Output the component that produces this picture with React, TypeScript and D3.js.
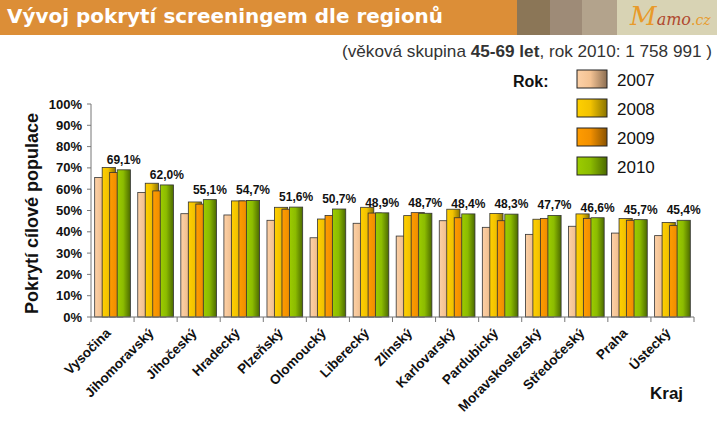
import * as d3 from 'd3'

const REGIONS = ['Vysočina', 'Jihomoravský', 'Jihočeský', 'Hradecký', 'Plzeňský', 'Olomoucký', 'Liberecký', 'Zlínský', 'Karlovarský', 'Pardubický', 'Moravskoslezský', 'Středočeský', 'Praha', 'Ústecký']
const YEARS = ['2007', '2008', '2009', '2010']
const V2007 = [65.5, 58.5, 48.5, 47.9, 45.4, 37.2, 44.0, 38.0, 45.2, 42.1, 38.8, 42.6, 39.4, 38.2]
const V2008 = [70.2, 62.8, 54.0, 54.5, 51.5, 46.0, 51.5, 47.6, 50.6, 48.6, 45.9, 48.4, 46.2, 44.4]
const V2009 = [67.8, 59.2, 53.0, 54.5, 50.6, 47.7, 48.8, 49.0, 46.6, 45.2, 46.3, 46.3, 45.4, 42.9]
const V2010 = [69.1, 62.0, 55.1, 54.7, 51.6, 50.7, 48.9, 48.7, 48.4, 48.3, 47.7, 46.6, 45.7, 45.4]
const SERIES = [V2007, V2008, V2009, V2010]
const Y_TICKS = [0, 10, 20, 30, 40, 50, 60, 70, 80, 90, 100]

// light -> dark horizontal gradients, like the original Excel fills
const GRAD = [
  ['#fdd1a7', '#f3c293', '#8c6e52'],
  ['#ffd000', '#f2c200', '#8a7400'],
  ['#ff9c00', '#f29000', '#8a5300'],
  ['#9ccc00', '#8cbc00', '#4c6a00'],
]

const FONT = '"Liberation Sans", Arial, sans-serif'

export default function App() {
  const width = 717
  const height = 426
  const x0 = 91
  const x1 = 694
  const yTop = 104
  const yBottom = 317

  const x = d3.scaleBand<string>().domain(REGIONS).range([x0, x1])
  const y = d3.scaleLinear().domain([0, 100]).range([yBottom, yTop])
  const barW = 13.2
  const inner = d3.scalePoint<string>().domain(YEARS).range([0, 22.5])
  const groupPad = (x.bandwidth() - (22.5 + barW)) / 2

  const fmt = (v: number) => d3.format('.1f')(v).replace('.', ',') + '%'

  return (
    <svg width={width} height={height} style={{ position: 'absolute', left: 0, top: 0, background: '#fff' }} fontFamily={FONT}>
      <defs>
        {GRAD.map((g, i) => (
          <linearGradient key={i} id={`g${i}`} x1="0" x2="1" y1="0" y2="0">
            <stop offset="0" stopColor={g[0]} />
            <stop offset="0.45" stopColor={g[1]} />
            <stop offset="1" stopColor={g[2]} />
          </linearGradient>
        ))}
      </defs>

      {/* header band */}
      <rect x={0} y={0} width={517} height={35} fill="#dc8e37" />
      <rect x={517} y={0} width={33} height={35} fill="#8b7657" />
      <rect x={550} y={0} width={32} height={35} fill="#9e8b77" />
      <rect x={582} y={0} width={35} height={35} fill="#b3a38c" />
      <rect x={617} y={0} width={100} height={35} fill="#d8d3b4" />
      <text x={7} y={23} fill="#fff" fontFamily='"DejaVu Sans", Verdana, sans-serif' fontWeight="bold" fontSize={19} textLength={436} lengthAdjust="spacingAndGlyphs">
        Vývoj pokrytí screeningem dle regionů
      </text>
      <text x={630} y={25} fontFamily='"DejaVu Serif", serif' fontStyle="italic" fontSize={16}>
        <tspan fill="#e89a2a" fontSize={26}>M</tspan>
        <tspan fill="#b0492f">amo</tspan>
        <tspan fill="#e89a2a" fontSize={14}>.cz</tspan>
      </text>

      {/* subtitle */}
      <text x={712} y={57} textAnchor="end" fontSize={17} fill="#333" textLength={370} lengthAdjust="spacingAndGlyphs">
        (věková skupina <tspan fontWeight="bold">45-69 let</tspan>, rok 2010: 1 758 991 )
      </text>

      {/* legend */}
      <text x={513} y={87} fontSize={16} fontWeight="bold" fill="#111">Rok:</text>
      {YEARS.map((yr, i) => (
        <g key={yr} transform={`translate(0, ${i * 29})`}>
          <rect x={577} y={70} width={30} height={18} fill={`url(#g${i})`} stroke="#222" strokeWidth={1} />
          <text x={617} y={86} fontSize={17} fill="#111">{yr}</text>
        </g>
      ))}

      {/* y axis */}
      <line x1={x0} x2={x0} y1={yTop} y2={yBottom} stroke="#777" />
      {Y_TICKS.map(t => (
        <g key={t}>
          <line x1={x0 - 4} x2={x0} y1={y(t)} y2={y(t)} stroke="#777" />
          <text x={82} y={y(t)} dy="0.35em" textAnchor="end" fontSize={13} fontWeight="bold" fill="#111">{t}%</text>
        </g>
      ))}
      <text transform={`translate(38, ${(yTop + yBottom) / 2 + 3}) rotate(-90)`} textAnchor="middle" fontSize={18} fontWeight="bold" fill="#111">
        Pokrytí cílové populace
      </text>

      {/* bars */}
      {REGIONS.map((r, ri) => (
        <g key={r}>
          {SERIES.map((s, si) => {
            const bx = (x(r) ?? 0) + groupPad + (inner(YEARS[si]) ?? 0)
            return (
              <rect key={si} x={bx} y={y(s[ri])} width={barW} height={yBottom - y(s[ri])}
                fill={`url(#g${si})`} stroke="#333" strokeWidth={0.8} />
            )
          })}
          <text x={(x(r) ?? 0) + groupPad + (inner('2010') ?? 0) + barW / 2} y={y(V2010[ri]) - 6}
            textAnchor="middle" fontSize={12} fontWeight="bold" fill="#111">
            {fmt(V2010[ri])}
          </text>
        </g>
      ))}

      {/* x axis */}
      <line x1={x0} x2={x1} y1={yBottom} y2={yBottom} stroke="#777" />
      {[...REGIONS.map(r => x(r) ?? 0), x1].map((tx, i) => (
        <line key={i} x1={tx} x2={tx} y1={yBottom} y2={yBottom + 5} stroke="#777" />
      ))}
      {REGIONS.map(r => {
        const cx = (x(r) ?? 0) + x.bandwidth() / 2
        return (
          <text key={r} transform={`translate(${cx - 1}, ${yBottom + 17}) rotate(-45)`} textAnchor="end" fontSize={13.5} fontWeight="bold" fill="#111">
            {r}
          </text>
        )
      })}
      <text x={650} y={399} fontSize={17} fontWeight="bold" fill="#111">Kraj</text>
    </svg>
  )
}
